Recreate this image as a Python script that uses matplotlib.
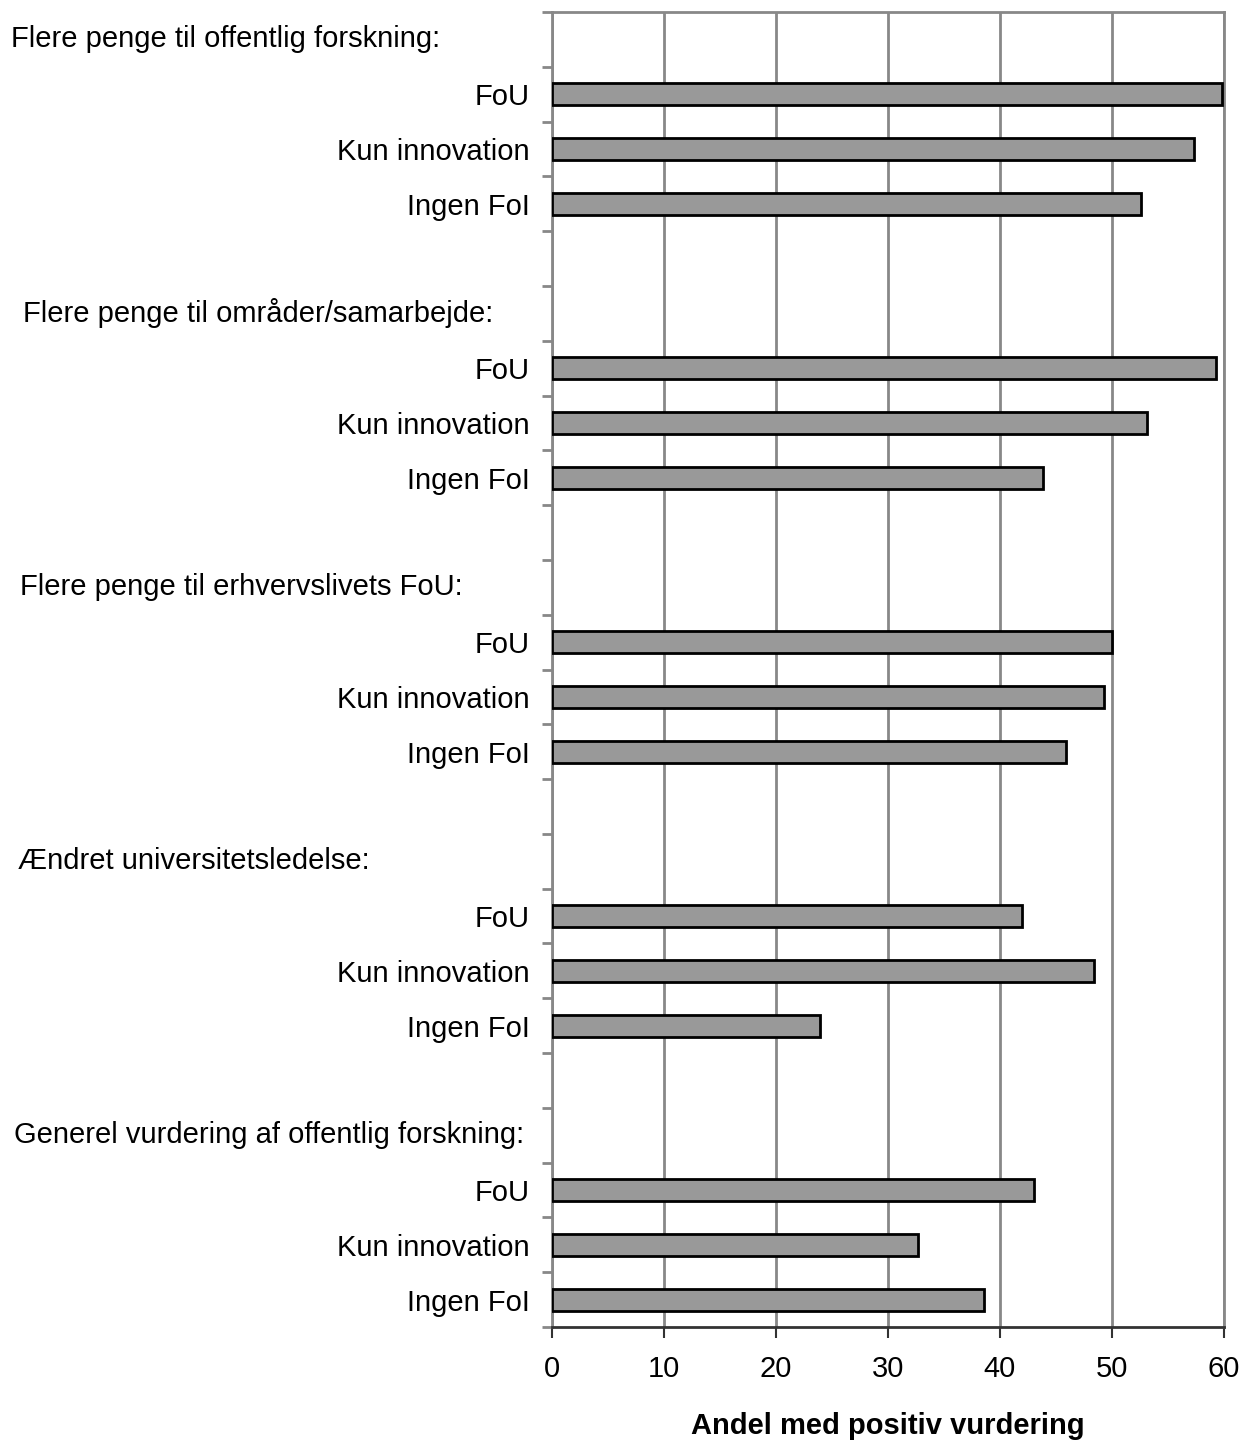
import matplotlib
matplotlib.use("Agg")
import matplotlib.pyplot as plt
import matplotlib.transforms as mtransforms
import numpy as np

plt.rcParams['font.family'] = ['Liberation Sans', 'DejaVu Sans']

headers = ["Flere penge til offentlig forskning:",
           "Flere penge til områder/samarbejde:",
           "Flere penge til erhvervslivets FoU:",
           "Ændret universitetsledelse:",
           "Generel vurdering af offentlig forskning:"]
header_x_px = [11, 23, 20, 18, 14]
subcats = ["FoU", "Kun innovation", "Ingen FoI"]
values = [
    [59.8, 57.3, 52.6],
    [59.3, 53.1, 43.8],
    [50.0, 49.3, 45.9],
    [42.0, 48.4, 23.9],
    [43.0, 32.7, 38.6],
]
xticks = [0, 10, 20, 30, 40, 50, 60]
xlabel = "Andel med positiv vurdering"

W, H = 1242, 1440
fig = plt.figure(figsize=(W / 100, H / 100), dpi=100)
ax = fig.add_axes([552 / W, 1 - 1327 / H, (1224 - 552) / W, (1327 - 12) / H])

n_rows = len(headers) * 5 - 1
bar_pos, bar_val, bar_lab = [], [], []
for g, vals in enumerate(values):
    for i, v in enumerate(vals):
        bar_pos.append(g * 5 + 1 + i)
        bar_val.append(v)
        bar_lab.append(subcats[i])

ax.barh(bar_pos, bar_val, height=0.4, color="#999999", edgecolor="black",
        linewidth=2, zorder=3)

ax.set_ylim(n_rows - 0.5, -0.5)
ax.set_xlim(0, 60)
ax.set_xticks(xticks)
ax.set_xticklabels([str(t) for t in xticks], fontsize=21)
ax.set_yticks(bar_pos)
ax.set_yticklabels(bar_lab, fontsize=21)
ax.tick_params(axis='y', which='major', length=0, pad=16)
ax.set_yticks(np.arange(-0.5, n_rows, 1.0), minor=True)
ax.tick_params(axis='y', which='minor', length=7, width=2, color="#888888")
ax.tick_params(axis='x', which='major', length=8, width=1.5, color="#333333", pad=12)

ax.xaxis.grid(True, color="#888888", linewidth=2, zorder=0)
for s in ['top', 'left', 'right']:
    ax.spines[s].set_color("#888888")
    ax.spines[s].set_linewidth(2)
ax.spines['bottom'].set_color("#333333")
ax.spines['bottom'].set_linewidth(2)

trans = mtransforms.blended_transform_factory(fig.transFigure, ax.transData)
for g, h in enumerate(headers):
    ax.text(header_x_px[g] / W, g * 5, h, transform=trans,
            fontsize=21, ha='left', va='center', clip_on=False)

fig.text((552 + 1224) / 2 / W, 1 - 1426 / H, xlabel, fontsize=21,
         fontweight='bold', ha='center', va='center')

fig.savefig("out.png", dpi=100)
